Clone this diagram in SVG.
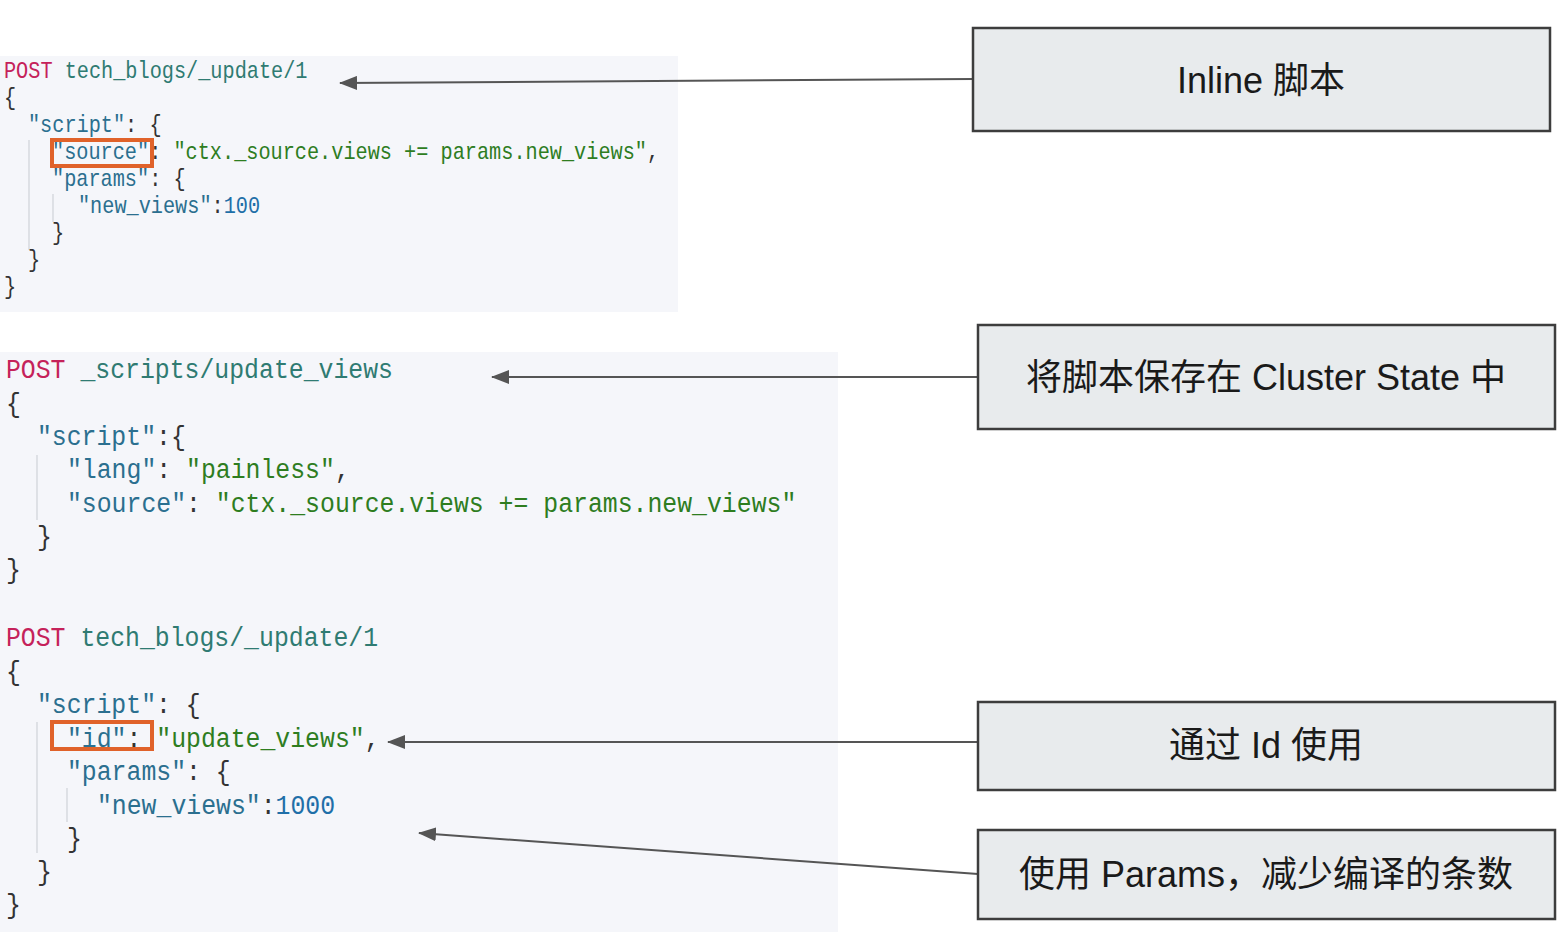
<svg xmlns="http://www.w3.org/2000/svg" width="1568" height="932" viewBox="0 0 1568 932">
<style>
.code{font-family:"Liberation Mono","DejaVu Sans Mono",monospace;white-space:pre}
.c1{font-size:23px}
.c2{font-size:28.2px}
.m{fill:#c5225a}
.u{fill:#2f7b72}
.k{fill:#2b6f8f}
.s{fill:#2e7d1f}
.n{fill:#1f6fa8}
.p{fill:#333333}
.guide{stroke:#cfd3d8;stroke-width:1.2}
.hl{fill:none;stroke:#e0622a;stroke-width:4}
.box{fill:#e8ebed;stroke:#3d3d3d;stroke-width:2.5}
.lbl{font-family:"Liberation Sans","Noto Sans CJK SC",sans-serif;font-size:36px;fill:#1a1a1a;text-anchor:middle;dominant-baseline:central}
.conn{stroke:#555555;stroke-width:2;fill:none;marker-end:url(#ah)}
</style>
<defs>
<marker id="ah" viewBox="0 0 18 14" refX="17" refY="7" markerWidth="18" markerHeight="14" markerUnits="userSpaceOnUse" orient="auto">
<path d="M0,0 L18,7 L0,14 z" fill="#555555"/>
</marker>
</defs>
<rect width="1568" height="932" fill="#ffffff"/>
<g id="code1">
<rect x="0" y="56" width="678" height="256" fill="#f5f6fa"/>
<line class="guide" x1="29" y1="140" x2="29" y2="250"/>
<line class="guide" x1="53" y1="194" x2="53" y2="222"/>
<g transform="scale(0.88,1)">
<text class="code c1" y="78"><tspan x="4.5" class="m">POST</tspan><tspan class="u"> tech_blogs/_update/1</tspan></text>
<text class="code c1 p" x="4.5" y="105">{</text>
<text class="code c1" x="31.8" y="132"><tspan class="k">"script"</tspan><tspan class="p">: {</tspan></text>
<text class="code c1" x="59.1" y="159"><tspan class="k">"source"</tspan><tspan class="p">: </tspan><tspan class="s">"ctx._source.views += params.new_views"</tspan><tspan class="p">,</tspan></text>
<text class="code c1" x="59.1" y="186"><tspan class="k">"params"</tspan><tspan class="p">: {</tspan></text>
<text class="code c1" x="88.6" y="213"><tspan class="k">"new_views"</tspan><tspan class="p">:</tspan><tspan class="n">100</tspan></text>
<text class="code c1 p" x="59.1" y="240">}</text>
<text class="code c1 p" x="31.8" y="267">}</text>
<text class="code c1 p" x="4.5" y="294">}</text>
</g>
<rect class="hl" x="52" y="140" width="100" height="26"/>
</g>
<g id="code2">
<rect x="0" y="352" width="838" height="580" fill="#f5f6fa"/>
<line class="guide" x1="37" y1="455" x2="37" y2="520"/>
<line class="guide" x1="37" y1="722" x2="37" y2="853"/>
<line class="guide" x1="67" y1="788" x2="67" y2="822"/>
<g transform="scale(0.88,1)">
<text class="code c2" y="378"><tspan x="6.8" class="m">POST</tspan><tspan class="u"> _scripts/update_views</tspan></text>
<text class="code c2 p" x="6.8" y="412">{</text>
<text class="code c2" x="42" y="445"><tspan class="k">"script"</tspan><tspan class="p">:{</tspan></text>
<text class="code c2" x="76.1" y="478"><tspan class="k">"lang"</tspan><tspan class="p">: </tspan><tspan class="s">"painless"</tspan><tspan class="p">,</tspan></text>
<text class="code c2" x="76.1" y="512"><tspan class="k">"source"</tspan><tspan class="p">: </tspan><tspan class="s">"ctx._source.views += params.new_views"</tspan></text>
<text class="code c2 p" x="42" y="545">}</text>
<text class="code c2 p" x="6.8" y="578">}</text>
</g>
</g>
<g id="code3">
<g transform="scale(0.88,1)">
<text class="code c2" y="646"><tspan x="6.8" class="m">POST</tspan><tspan class="u"> tech_blogs/_update/1</tspan></text>
<text class="code c2 p" x="6.8" y="680">{</text>
<text class="code c2" x="42" y="713"><tspan class="k">"script"</tspan><tspan class="p">: {</tspan></text>
<text class="code c2" x="76.1" y="747"><tspan class="k">"id"</tspan><tspan class="p">: </tspan><tspan class="s">"update_views"</tspan><tspan class="p">,</tspan></text>
<text class="code c2" x="76.1" y="780"><tspan class="k">"params"</tspan><tspan class="p">: {</tspan></text>
<text class="code c2" x="110.2" y="814"><tspan class="k">"new_views"</tspan><tspan class="p">:</tspan><tspan class="n">1000</tspan></text>
<text class="code c2 p" x="76.1" y="847">}</text>
<text class="code c2 p" x="42" y="880">}</text>
<text class="code c2 p" x="6.8" y="913">}</text>
</g>
<rect class="hl" x="52" y="722" width="100" height="27"/>
</g>
<g id="connectors">
<line class="conn" x1="973" y1="79" x2="340" y2="83"/>
<line class="conn" x1="978" y1="377" x2="492" y2="377"/>
<line class="conn" x1="978" y1="742" x2="388" y2="742"/>
<line class="conn" x1="978" y1="874" x2="419" y2="833"/>
</g>
<g id="n1"><rect class="box" x="973" y="28" width="577" height="103"/><text class="lbl" x="1261" y="80">Inline 脚本</text></g>
<g id="n2"><rect class="box" x="978" y="325" width="577" height="104"/><text class="lbl" x="1266" y="377">将脚本保存在 Cluster State 中</text></g>
<g id="n3"><rect class="box" x="978" y="702" width="577" height="88"/><text class="lbl" x="1266" y="745">通过 Id 使用</text></g>
<g id="n4"><rect class="box" x="978" y="830" width="577" height="89"/><text class="lbl" x="1266" y="874">使用 Params，减少编译的条数</text></g>
</svg>
